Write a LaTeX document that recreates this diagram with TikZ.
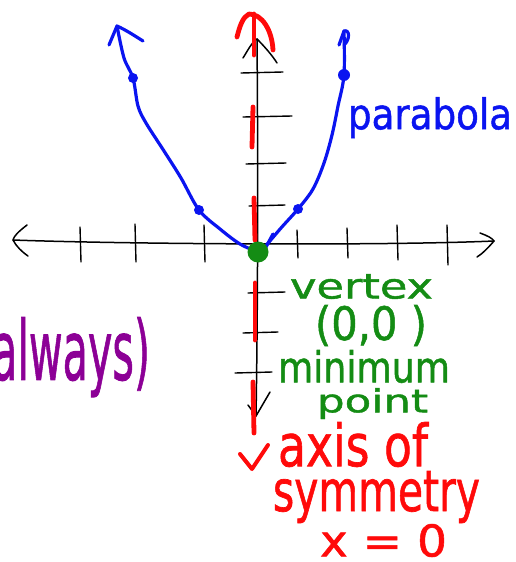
\documentclass[tikz,border=0pt]{standalone}
\usepackage{fontspec}
\setmainfont{DejaVu Sans}
\newfontfamily\handfont[FakeBold=1.2]{DejaVu Sans}
\usepackage{graphicx}
\definecolor{penblue}{RGB}{10,20,240}
\definecolor{penred}{RGB}{255,10,10}
\definecolor{pengreen}{RGB}{20,140,20}
\definecolor{penpurple}{RGB}{140,0,150}
\newcommand{\fitbox}[3]{\resizebox*{#1}{#2}{\handfont #3}}
\tikzset{
  axisline/.style={black, line width=1.5pt, line cap=round, line join=round},
  tickline/.style={black, line width=1.4pt, line cap=round},
  parabline/.style={penblue, line width=3.2pt, line cap=round, line join=round},
  symline/.style={penred, line width=4.8pt, line cap=round, line join=round},
  plotdot/.style={circle, fill=penblue, inner sep=0pt, minimum size=10pt},
  lab/.style={inner sep=0pt, outer sep=0pt, anchor=north west},
}
\begin{document}
\begin{tikzpicture}[x=1pt,y=-1pt]
\useasboundingbox (0,0) rectangle (515,562);
\clip (0,0) rectangle (515,562);
% ---------- coordinates ----------
\coordinate (xl) at (13,240);
\coordinate (xr) at (494,241);
\coordinate (yt) at (257,39);
\coordinate (yb) at (256,416);
% ---------- x axis ----------
\draw[axisline] (xl) .. controls (120,244) and (380,246) .. (xr);
\draw[axisline] (27,225) .. controls (18,232) and (14,236) .. (xl) .. controls (16,246) and (22,252) .. (28,256);
\draw[axisline] (480,233) .. controls (488,236) and (492,238) .. (xr) .. controls (488,248) and (482,254) .. (477,257);
\foreach \tx/\ta/\tb in {80/227/262, 135/224/262, 204/225/262, 297/230/258, 347/228/258, 397/225/260, 447/225/265}
  \draw[tickline] (\tx,\ta) -- (\tx+1,\tb);
% ---------- y axis ----------
\draw[axisline] (yt) .. controls (258,150) and (258,300) .. (yb);
\draw[axisline] (243,58) .. controls (248,50) and (252,42) .. (yt) .. controls (264,46) and (272,55) .. (277,63);
\draw[axisline] (248,405) -- (yb) -- (270,392);
\foreach \ty/\ta/\tb in {73/241/283, 117/243/292, 164/246/286, 206/249/285, 293/248/285, 333/243/278, 373/235/272}
  \draw[tickline] (\ta,\ty) -- (\tb,\ty-1);
% ---------- axis of symmetry (red dashes) ----------
\draw[symline] (254,55) -- (254,14);
\draw[symline] (237,37) .. controls (240,25) and (243,17) .. (249,14) .. controls (262,14) and (272,30) .. (273,50);
\draw[symline] (253,107) -- (252,147);
\draw[symline] (254,198) -- (255,240);
\draw[symline] (255,283) -- (255,340);
\draw[symline] (253,382) -- (254,433);
\draw[penred, line width=4pt, line cap=round, line join=round] (240,454) -- (252,469) -- (268,445);
% ---------- parabola ----------
\node[plotdot] (p1) at (133,78) {};
\node[plotdot] (p2) at (199,210) {};
\node[plotdot] (p3) at (298,209) {};
\node[plotdot, minimum size=12pt] (p4) at (344,75) {};
\coordinate (la) at (117,26);
\coordinate (ra) at (344,31);
\coordinate (v) at (258,252);
\draw[parabline] plot[smooth, tension=0.55] coordinates {(la) (124,58) (p1.center) (138,106) (146,123) (164,151) (181,178) (p2.center) (220,229) (240,244) (v)};
\draw[parabline] plot[smooth, tension=0.55] coordinates {(264,248) (281,228) (p3.center) (313,189) (324,163) (332,135) (338,106) (p4.center) (ra)};
\draw[parabline] (266,247) -- (273,234);
\draw[parabline] (109,45) -- (la) .. controls (126,30) and (135,36) .. (143,41);
\draw[parabline] (339,45) -- (ra) .. controls (350,29) and (350,40) .. (344,45);
\node[circle, fill=pengreen, inner sep=0pt, minimum size=21pt] (vertex) at (v) {};
% ---------- labels ----------
\node[lab, text=penblue] (tparab) at (348,97) {\fitbox{164pt}{41pt}{parabola}};
\node[lab, text=pengreen] (tvertex) at (290,274) {\fitbox{143pt}{25pt}{vertex}};
\node[lab, text=pengreen] (tzero) at (315,305) {\fitbox{112pt}{41pt}{(0,0 )}};
\node[lab, text=pengreen] (tmin) at (278,350) {\fitbox{172pt}{33pt}{minimum}};
\node[lab, text=pengreen] (tpoint) at (317,388) {\fitbox{111pt}{31pt}{point}};
\node[lab, text=penred] (taxis) at (278,422) {\fitbox{150pt}{45pt}{axis of}};
\node[lab, text=penred] (tsym) at (273,471) {\fitbox{207pt}{52pt}{symmetry}};
\node[lab, text=penred] (teq) at (320,524) {\fitbox{127pt}{33pt}{x = 0}};
\node[lab, text=penpurple] (talways) at (-24,317) {\fitbox{174pt}{80pt}{(always)}};
\end{tikzpicture}
\end{document}
